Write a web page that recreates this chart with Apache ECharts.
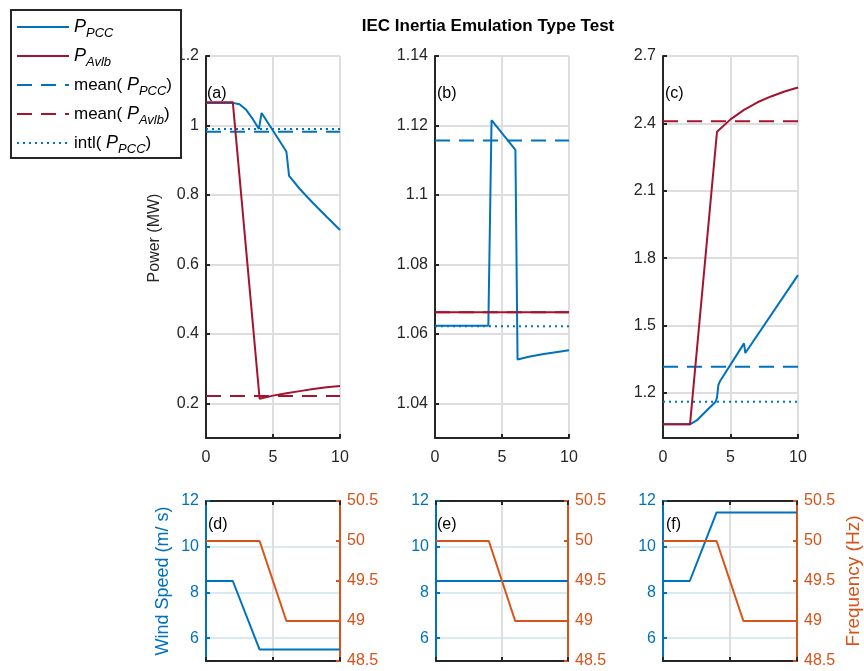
<!DOCTYPE html>
<html>
<head>
<meta charset="utf-8">
<script src="https://cdn.jsdelivr.net/npm/echarts@6/dist/echarts.min.js"></script>
<style>
  html, body { margin: 0; padding: 0; background: #fff; }
  #chart { width: 864px; height: 671px; }
</style>
</head>
<body>
<div id="chart"></div>
<script>
// panel (a)
const tPccA = [0, 2, 2.5, 3, 3.5, 3.95, 4.15, 6, 6.2, 7, 8, 9, 10];
const pccA = [1.065, 1.065, 1.061, 1.045, 1.018, 0.99, 1.036, 0.925, 0.855, 0.817, 0.776, 0.737, 0.699];
const tAvlbA = [0, 2, 4, 5, 6, 7, 8, 9, 10];
const avlbA = [1.067, 1.067, 0.213, 0.222, 0.229, 0.235, 0.241, 0.246, 0.25];
const meanPccA = 0.982, intlPccA = 0.99, meanAvlbA = 0.221;

// panel (b)
const tPccB = [0, 3.98, 4.22, 6, 6.16, 7, 8, 9, 10];
const pccB = [1.0623, 1.0623, 1.1215, 1.113, 1.0526, 1.0534, 1.0541, 1.0547, 1.0553];
const tAvlbB = [0, 10];
const avlbB = [1.0662, 1.0662];
const meanPccB = 1.1157, intlPccB = 1.0622, meanAvlbB = 1.0662;

// panel (c)
const tPccC = [0, 2, 2.5, 3, 3.5, 3.9, 4.0, 4.1, 4.2, 6, 6.1, 10];
const pccC = [1.061, 1.061, 1.078, 1.108, 1.138, 1.161, 1.18, 1.235, 1.25, 1.421, 1.378, 1.725];
const tAvlbC = [0, 2, 4, 5, 6, 7, 8, 9, 10];
const avlbC = [1.061, 1.061, 2.363, 2.418, 2.46, 2.494, 2.52, 2.542, 2.56];
const meanPccC = 1.317, intlPccC = 1.161, meanAvlbC = 2.41;

// panels (d)-(f)
const tWind = [0, 2, 4, 10];
const windD = [8.5, 8.5, 5.5, 5.5];
const windE = [8.5, 8.5, 8.5, 8.5];
const windF = [8.5, 8.5, 11.5, 11.5];
const tFreq = [0, 4, 6, 10];
const freq = [50, 50, 49, 49];

// tick labels
const tTicks = [0, 5, 10];
const powerTicksA = [0.2, 0.4, 0.6, 0.8, 1, 1.2];
const powerTicksB = [1.04, 1.06, 1.08, 1.1, 1.12, 1.14];
const powerTicksC = [1.2, 1.5, 1.8, 2.1, 2.4, 2.7];
const windTicks = [6, 8, 10, 12];

const FONT = 'Liberation Sans, Arial, Helvetica, sans-serif';
const BLUE = '#0072BD', RED = '#A2142F', ORANGE = '#D95319', DARK = '#262626';
const GRID = '#dedede', BLUEGRID = '#d9eaf5';

const zip = (t, v) => t.map((x, i) => [x, v[i]]);
const flat = v => [[0, v], [10, v]];

const chart = echarts.init(document.getElementById('chart'));

const topLefts = [206, 435, 663];
const topWidths = [134, 134, 135];
const botLefts = [206, 436, 663];
const botWidths = [134, 132, 134];

let grid = [];
topLefts.forEach((l, i) => grid.push({ left: l, width: topWidths[i], top: 56, height: 382 }));
botLefts.forEach((l, i) => grid.push({ left: l, width: botWidths[i], top: 501, height: 160 }));

let xAxis = [];
// top panels
for (let i = 0; i < 3; i++) {
  xAxis.push({
    type: 'value', gridIndex: i, min: 0, max: 10,
    axisLabel: { customValues: tTicks, color: DARK, fontSize: 16, fontFamily: FONT, margin: 12 },
    axisTick: { customValues: tTicks, inside: true, length: 4, lineStyle: { color: DARK, width: 2 } },
    axisLine: { onZero: false, lineStyle: { color: DARK, width: 2 } },
    splitLine: { show: true, lineStyle: { color: GRID, width: 2 } }
  });
}
// bottom panels: bottom + top border
for (let i = 3; i < 6; i++) {
  xAxis.push({
    type: 'value', gridIndex: i, min: 0, max: 10, position: 'bottom',
    axisLabel: { show: false },
    axisTick: { customValues: tTicks, inside: true, length: 4, lineStyle: { color: DARK, width: 2 } },
    axisLine: { onZero: false, lineStyle: { color: DARK, width: 2 } },
    splitLine: { show: true, lineStyle: { color: GRID, width: 2 } }
  });
}
for (let i = 3; i < 6; i++) {
  xAxis.push({
    type: 'value', gridIndex: i, min: 0, max: 10, position: 'top',
    axisLabel: { show: false },
    axisTick: { customValues: tTicks, inside: true, length: 4, lineStyle: { color: DARK, width: 2 } },
    axisLine: { onZero: false, lineStyle: { color: DARK, width: 2 } },
    splitLine: { show: false }
  });
}

const powerAxis = (i, min, max, ticks, extra) => Object.assign({
  type: 'value', gridIndex: i, min: min, max: max,
  axisLabel: { customValues: ticks, color: DARK, fontSize: 16, fontFamily: FONT, margin: 7 },
  axisTick: { customValues: ticks, inside: true, length: 4, lineStyle: { color: DARK, width: 2 } },
  axisLine: { show: true, onZero: false, lineStyle: { color: DARK, width: 2 } },
  splitLine: { show: true, lineStyle: { color: GRID, width: 2 } }
}, extra || {});

let yAxis = [
  powerAxis(0, 0.1, 1.2, powerTicksA, {
    name: 'Power (MW)', nameLocation: 'middle', nameGap: 43,
    nameTextStyle: { color: DARK, fontSize: 16, fontFamily: FONT, padding: [0, 0, 0, 18] }
  }),
  powerAxis(1, 1.03, 1.14, powerTicksB),
  powerAxis(2, 1.0, 2.7, powerTicksC)
];
for (let i = 3; i < 6; i++) {
  let ax = {
    type: 'value', gridIndex: i, min: 5, max: 12, position: 'left',
    axisLabel: { customValues: windTicks, color: BLUE, fontSize: 16, fontFamily: FONT, margin: 7 },
    axisTick: { customValues: windTicks, inside: true, length: 4, lineStyle: { color: BLUE, width: 2 } },
    axisLine: { show: true, onZero: false, lineStyle: { color: BLUE, width: 2 } },
    splitLine: { show: true, lineStyle: { color: BLUEGRID, width: 2 } }
  };
  if (i === 3) {
    ax.name = 'Wind Speed (m/ s)';
    ax.nameLocation = 'middle';
    ax.nameGap = 34;
    ax.nameTextStyle = { color: BLUE, fontSize: 18, fontFamily: FONT };
  }
  yAxis.push(ax);
}
for (let i = 3; i < 6; i++) {
  let ax = {
    type: 'value', gridIndex: i, min: 48.5, max: 50.5, interval: 0.5, position: 'right',
    axisLabel: { color: ORANGE, fontSize: 16, fontFamily: FONT, margin: 7 },
    axisTick: { inside: true, length: 4, lineStyle: { color: ORANGE, width: 2 } },
    axisLine: { show: true, onZero: false, lineStyle: { color: ORANGE, width: 2 } },
    splitLine: { show: false }
  };
  if (i === 5) {
    ax.name = 'Frequency (Hz)';
    ax.nameLocation = 'middle';
    ax.nameGap = 47;
    ax.nameRotate = 90;
    ax.nameTextStyle = { color: ORANGE, fontSize: 19, fontFamily: FONT };
  }
  yAxis.push(ax);
}

const line = (name, idx, data, color, type) => ({
  name: name, type: 'line', xAxisIndex: idx, yAxisIndex: idx, data: data,
  symbol: 'none', silent: true,
  lineStyle: { color: color, width: 2, type: type || 'solid' },
  itemStyle: { color: color }
});

const DASH = [15, 9], DOT = [2, 4];
const panels = [
  [tPccA, pccA, tAvlbA, avlbA, meanPccA, meanAvlbA, intlPccA],
  [tPccB, pccB, tAvlbB, avlbB, meanPccB, meanAvlbB, intlPccB],
  [tPccC, pccC, tAvlbC, avlbC, meanPccC, meanAvlbC, intlPccC]
];
let series = [];
panels.forEach((p, i) => {
  series.push(line('mean(P_PCC)', i, flat(p[4]), BLUE, DASH));
  series.push(line('mean(P_Avlb)', i, flat(p[5]), RED, DASH));
  series.push(line('intl(P_PCC)', i, flat(p[6]), BLUE, DOT));
  series.push(line('P_PCC', i, zip(p[0], p[1]), BLUE));
  series.push(line('P_Avlb', i, zip(p[2], p[3]), RED));
});
[windD, windE, windF].forEach((w, k) => {
  series.push({
    type: 'line', xAxisIndex: 3 + k, yAxisIndex: 3 + k, data: zip(tWind, w), symbol: 'none', silent: true,
    lineStyle: { color: BLUE, width: 2 }
  });
  series.push({
    type: 'line', xAxisIndex: 3 + k, yAxisIndex: 6 + k, data: zip(tFreq, freq), symbol: 'none', silent: true,
    lineStyle: { color: ORANGE, width: 2 }
  });
});

const legendText = {
  'P_PCC': '{p|P}{s|PCC}',
  'P_Avlb': '{p|P}{s|Avlb}',
  'mean(P_PCC)': 'mean( {p|P}{s|PCC})',
  'mean(P_Avlb)': 'mean( {p|P}{s|Avlb})',
  'intl(P_PCC)': 'intl( {p|P}{s|PCC})'
};

const panelLabels = [
  ['(a)', 207, 86], ['(b)', 437, 86], ['(c)', 665, 86],
  ['(d)', 208, 517], ['(e)', 437, 517], ['(f)', 666, 517]
];

const option = {
  animation: false,
  backgroundColor: '#fff',
  title: {
    text: 'IEC Inertia Emulation Type Test', left: 483, top: 13, textAlign: 'center',
    textStyle: { fontFamily: FONT, fontSize: 17, fontWeight: 'bold', color: '#000' }
  },
  grid: grid,
  xAxis: xAxis,
  yAxis: yAxis,
  legend: {
    orient: 'vertical', left: 11, top: 13, z: 20, selectedMode: false,
    itemWidth: 52, itemHeight: 14, itemGap: 7.5,
    itemStyle: { opacity: 0 },
    data: ['P_PCC', 'P_Avlb', 'mean(P_PCC)', 'mean(P_Avlb)', 'intl(P_PCC)'],
    formatter: name => legendText[name],
    textStyle: {
      fontFamily: FONT, fontSize: 17, color: '#000',
      rich: {
        p: { fontFamily: FONT, fontSize: 18, fontStyle: 'italic', color: '#000' },
        s: { fontFamily: FONT, fontSize: 13, fontStyle: 'italic', color: '#000', padding: [12, 0, 0, 0] }
      }
    }
  },
  graphic: [
    {
      type: 'rect', left: 10, top: 9, z: 15,
      shape: { width: 170, height: 148 },
      style: { fill: '#fff', stroke: DARK, lineWidth: 2 }
    }
  ].concat(panelLabels.map(p => ({
    type: 'text', left: p[1], top: p[2], z: 10,
    style: { text: p[0], font: '16px ' + FONT, fill: '#000' }
  }))),
  series: series
};

chart.setOption(option);
</script>
</body>
</html>
